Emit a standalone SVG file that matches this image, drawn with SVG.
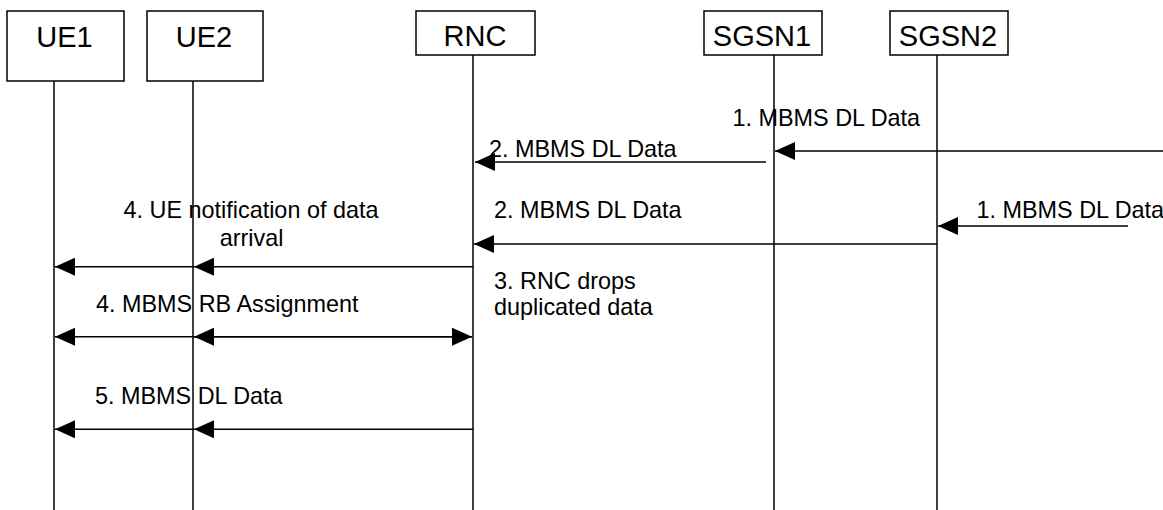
<svg xmlns="http://www.w3.org/2000/svg" width="1163" height="510" viewBox="0 0 1163 510">
<defs>
<style>
.box{fill:#fff;stroke:#000;stroke-width:1.5}
.life{stroke:#000;stroke-width:1.5;fill:none}
.msg{stroke:#000;stroke-width:1.5;fill:none}
.name{font-family:"Liberation Sans",Arial,sans-serif;font-size:29px;fill:#000;text-anchor:middle}
.lbl{font-family:"Liberation Sans",Arial,sans-serif;font-size:23.4px;fill:#000}
.head{fill:#000}
</style>
<marker id="ah" viewBox="0 0 20 18" refX="20" refY="9" markerWidth="20" markerHeight="18" markerUnits="userSpaceOnUse" orient="auto">
<path d="M0,0 L20,9 L0,18 Z" class="head"/>
</marker>
</defs>
<rect width="1163" height="510" fill="#fff"/>
<g id="UE1">
<rect class="box" x="7" y="11" width="117" height="70"/>
<text class="name" x="64.5" y="46.5">UE1</text>
<line class="life" x1="54" y1="81" x2="54" y2="510"/>
</g>
<g id="UE2">
<rect class="box" x="147" y="11" width="116" height="70"/>
<text class="name" x="204" y="46.5">UE2</text>
<line class="life" x1="193" y1="81" x2="193" y2="510"/>
</g>
<g id="RNC">
<rect class="box" x="416" y="11" width="119" height="44"/>
<text class="name" x="475" y="46">RNC</text>
<line class="life" x1="473" y1="55" x2="473" y2="510"/>
</g>
<g id="SGSN1">
<rect class="box" x="704" y="11" width="118" height="44"/>
<text class="name" x="762" y="45.5">SGSN1</text>
<line class="life" x1="774" y1="55" x2="774" y2="510"/>
</g>
<g id="SGSN2">
<rect class="box" x="890" y="11" width="118" height="44"/>
<text class="name" x="948" y="45.5">SGSN2</text>
<line class="life" x1="937" y1="55" x2="937" y2="510"/>
</g>
<g id="connectors">
<line class="msg" x1="1163" y1="151" x2="775" y2="151" marker-end="url(#ah)"/>
<text class="lbl" x="732.5" y="126">1. MBMS DL Data</text>
<line class="msg" x1="766" y1="162" x2="475" y2="162" marker-end="url(#ah)"/>
<text class="lbl" x="489" y="157.3">2. MBMS DL Data</text>
<line class="msg" x1="1128" y1="226" x2="938" y2="226" marker-end="url(#ah)"/>
<text class="lbl" x="976.5" y="218.3">1. MBMS DL Data</text>
<line class="msg" x1="937" y1="244" x2="474" y2="244" marker-end="url(#ah)"/>
<text class="lbl" x="494" y="218.3">2. MBMS DL Data</text>
<line class="msg" x1="473" y1="266.7" x2="194" y2="266.7" marker-end="url(#ah)"/>
<line class="msg" x1="194" y1="266.7" x2="55" y2="266.7" marker-end="url(#ah)"/>
<text class="lbl" x="251" y="218" text-anchor="middle">4. UE notification of data</text>
<text class="lbl" x="251.5" y="245.7" text-anchor="middle">arrival</text>
<text class="lbl" x="494" y="289">3. RNC drops</text>
<text class="lbl" x="494" y="315">duplicated data</text>
<line class="msg" x1="194" y1="336.7" x2="472" y2="336.7" marker-end="url(#ah)"/>
<line class="msg" x1="472" y1="336.7" x2="194" y2="336.7" marker-end="url(#ah)"/>
<line class="msg" x1="194" y1="336.7" x2="55" y2="336.7" marker-end="url(#ah)"/>
<text class="lbl" x="96" y="311.7">4. MBMS RB Assignment</text>
<line class="msg" x1="473" y1="429.3" x2="194" y2="429.3" marker-end="url(#ah)"/>
<line class="msg" x1="194" y1="429.3" x2="55" y2="429.3" marker-end="url(#ah)"/>
<text class="lbl" x="95" y="404.3">5. MBMS DL Data</text>
</g>
</svg>
